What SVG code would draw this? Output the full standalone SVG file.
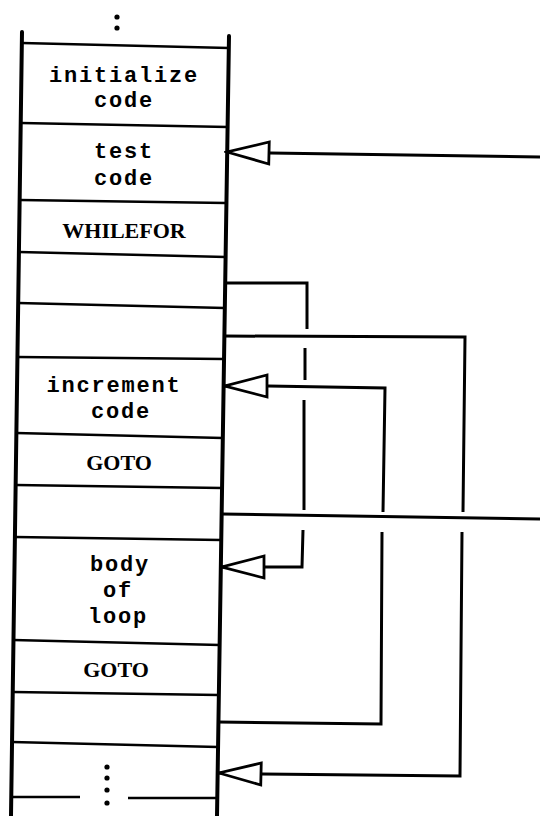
<svg xmlns="http://www.w3.org/2000/svg" width="540" height="816" viewBox="0 0 540 816">
<style>
.frame{stroke:#000;stroke-width:4;fill:none;stroke-linecap:round}
.div{stroke:#000;stroke-width:2.5;fill:none}
.conn{stroke:#000;stroke-width:3;fill:none;stroke-linejoin:miter}
.mono{font-family:"Liberation Mono","DejaVu Sans Mono",monospace;font-weight:bold;font-size:22px;letter-spacing:1.8px;text-anchor:middle;fill:#000}
.serif{font-family:"Liberation Serif","DejaVu Serif",serif;font-weight:bold;font-size:22px;text-anchor:middle;fill:#000}
</style>
<defs>
<marker id="open" markerUnits="userSpaceOnUse" viewBox="-3 -14 48 28" markerWidth="48" markerHeight="28" refX="42" refY="0" orient="auto">
<polygon points="0,-11 42,0 0,11" fill="#fff" stroke="#000" stroke-width="2.8" stroke-linejoin="miter"/>
</marker>
</defs>
<rect width="540" height="816" fill="#fff"/>
<g id="frame">
<circle cx="117" cy="17" r="2.6" fill="#000"/>
<circle cx="117" cy="28" r="2.6" fill="#000"/>
<line class="frame" x1="22" y1="32" x2="11" y2="816"/>
<line class="frame" x1="229" y1="36" x2="217" y2="816"/>
<line class="div" x1="22" y1="43" x2="229" y2="48"/>
<line class="div" x1="21" y1="123" x2="228" y2="127"/>
<line class="div" x1="20" y1="200" x2="226" y2="203"/>
<line class="div" x1="19" y1="252" x2="226" y2="257"/>
<line class="div" x1="18" y1="303" x2="225" y2="308"/>
<line class="div" x1="17" y1="357" x2="224" y2="359"/>
<line class="div" x1="16" y1="433" x2="223" y2="438"/>
<line class="div" x1="16" y1="485" x2="222" y2="488"/>
<line class="div" x1="15" y1="537" x2="221" y2="540"/>
<line class="div" x1="13" y1="640" x2="220" y2="645"/>
<line class="div" x1="13" y1="692" x2="219" y2="695"/>
<line class="div" x1="12" y1="742" x2="218" y2="747"/>
<line class="div" x1="11" y1="797" x2="80" y2="797"/>
<line class="div" x1="128" y1="798" x2="217" y2="798"/>
</g>
<g id="initialize">
<text class="mono" x="124" y="82">initialize</text>
<text class="mono" x="124" y="107">code</text>
</g>
<g id="test">
<text class="mono" x="124" y="158">test</text>
<text class="mono" x="124" y="185">code</text>
</g>
<g id="whilefor"><text class="serif" x="124" y="238">WHILEFOR</text></g>
<g id="slot1"></g>
<g id="slot2"></g>
<g id="increment">
<text class="mono" x="114" y="392">increment</text>
<text class="mono" x="121" y="418">code</text>
</g>
<g id="goto1"><text class="serif" x="119" y="470">GOTO</text></g>
<g id="slot3"></g>
<g id="body">
<text class="mono" x="120" y="571">body</text>
<text class="mono" x="118" y="597">of</text>
<text class="mono" x="118" y="623">loop</text>
</g>
<g id="goto2"><text class="serif" x="116" y="677">GOTO</text></g>
<g id="slot4"></g>
<g id="rest">
<circle cx="107" cy="767" r="2.6" fill="#000"/>
<circle cx="107" cy="778" r="2.6" fill="#000"/>
<circle cx="107" cy="790" r="2.6" fill="#000"/>
<circle cx="107" cy="803" r="2.6" fill="#000"/>
</g>
<g id="connectors">
<path class="conn" d="M540,157 L270,153 L227,152" marker-end="url(#open)"/>
<path class="conn" d="M225,283 L307,283 L307,329"/>
<path class="conn" d="M305,348 L305,380"/>
<path class="conn" d="M304,400 L304,510"/>
<path class="conn" d="M303,530 L302,567 L265,567 L222,567" marker-end="url(#open)"/>
<path class="conn" d="M224,336 L465,337 L463,512"/>
<path class="conn" d="M462,532 L460,776 L262,774 L219,773" marker-end="url(#open)"/>
<path class="conn" d="M218,722 L381,724 L382,532"/>
<path class="conn" d="M383,512 L385,388 L268,386 L225,386" marker-end="url(#open)"/>
<path class="conn" d="M222,514 L540,519"/>
</g>
</svg>
